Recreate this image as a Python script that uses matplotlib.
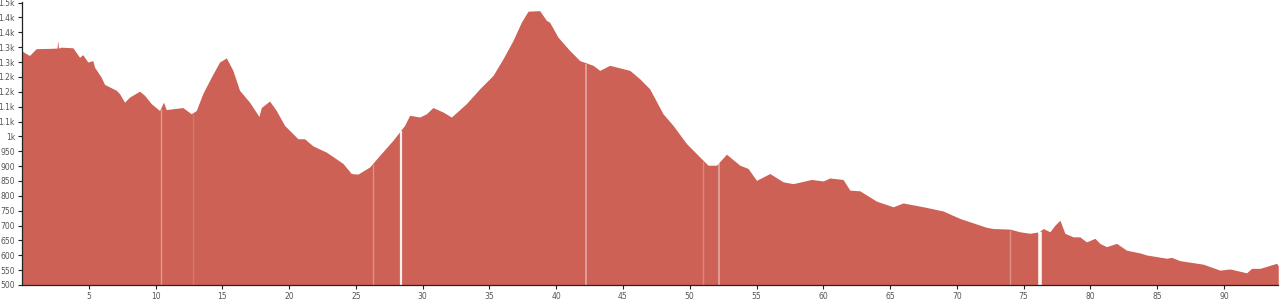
import numpy as np
import matplotlib
matplotlib.use("Agg")
import matplotlib.pyplot as plt

# distance (km) and elevation (m)
km = [0.00, 0.56, 1.06, 2.06, 2.62, 2.68, 2.73, 2.94, 3.81, 4.31, 4.55, 4.93,
      5.30, 5.43, 5.93, 6.18, 7.06, 7.30, 7.68, 8.05, 8.80, 9.18, 9.68, 10.30,
      10.60, 10.80, 12.04, 12.67, 13.05, 13.54, 14.17, 14.79, 15.30, 15.79,
      16.29, 17.04, 17.74, 17.92, 18.54, 19.04, 19.66, 20.28, 20.66, 21.16,
      21.78, 22.79, 24.03, 24.66, 25.15, 26.03, 26.78, 27.78, 28.65, 29.03,
      29.78, 30.28, 30.77, 31.52, 32.15, 33.27, 34.27, 35.27, 36.02, 36.76,
      37.39, 37.89, 38.76, 39.27, 39.51, 40.13, 41.01, 41.76, 42.76, 43.26,
      44.01, 45.51, 46.25, 47.00, 48.00, 48.75, 49.75, 50.50, 51.37, 52.00,
      52.75, 53.75, 54.37, 55.00, 56.00, 56.99, 57.74, 59.12, 59.99, 60.49,
      61.48, 61.99, 62.73, 63.99, 65.23, 65.98, 67.73, 68.97, 70.22, 72.22,
      72.72, 73.97, 74.72, 75.47, 76.17, 76.47, 76.97, 77.34, 77.72, 78.09,
      78.71, 79.21, 79.71, 80.34, 80.71, 81.21, 81.96, 82.71, 83.71, 84.21,
      85.71, 86.08, 86.70, 88.45, 89.70, 90.45, 91.70, 92.07, 92.70, 93.95,
      94.07]
elev = [1287, 1272, 1295, 1296, 1297, 1322, 1297, 1300, 1298, 1266, 1275, 1250,
        1255, 1233, 1199, 1175, 1155, 1144, 1115, 1132, 1152, 1138, 1110, 1087,
        1115, 1090, 1097, 1076, 1087, 1144, 1199, 1250, 1264, 1222,
        1155, 1115, 1067, 1097, 1119, 1087, 1037, 1009, 992, 992,
        968, 947, 909, 875, 873, 897, 936, 987, 1037, 1071,
        1065, 1076, 1097, 1082, 1065, 1110, 1160, 1205, 1261, 1322,
        1384, 1421, 1423, 1390, 1384, 1334, 1289, 1255, 1239, 1222,
        1239, 1222, 1194, 1160, 1076, 1037, 976, 942, 903, 903,
        940, 903, 892, 852, 875, 847, 841, 855, 850, 860,
        855, 819, 817, 782, 763, 776, 761, 749, 724, 694,
        690, 688, 679, 674, 679, 690, 679, 701, 718, 674,
        662, 662, 645, 657, 640, 629, 640, 617, 608, 601,
        590, 593, 582, 570, 550, 554, 541, 556, 556, 573,
        564]

# gaps in the track (km) and how visible they are
gap_km = [10.4, 12.8, 26.3, 28.4, 42.2, 51.0, 52.2, 74.0, 76.2]
gap_alpha = [0.35, 0.15, 0.3, 0.9, 0.45, 0.25, 0.45, 0.3, 0.95]
gap_width = [1.0, 1.0, 1.0, 1.6, 1.2, 1.0, 1.2, 1.0, 2.6]

yticks = list(range(500, 1451, 50))
ytick_labels = ["500", "550", "600", "650", "700", "750", "800", "850", "900", "950",
                "1k", "1.1k", "1.1k", "1.2k", "1.2k", "1.3k", "1.3k", "1.4k", "1.4k", "1.5k"]
xticks = list(range(5, 91, 5))

fig = plt.figure(figsize=(12.84, 3.04), dpi=100)
ax = fig.add_axes([22 / 1284, 19 / 304, 1256 / 1284, 283 / 304])

ax.fill_between(km, elev, 500, color="#cd6155", linewidth=0)
tops = np.interp(gap_km, km, elev)
for g, t, a, w in zip(gap_km, tops, gap_alpha, gap_width):
    ax.vlines(g, 500, t - 3, color="white", alpha=a, linewidth=w)

ax.set_xlim(0, 94.05)
ax.set_ylim(500, 1452)
ax.set_xticks(xticks)
ax.set_xticklabels([str(x) for x in xticks])
ax.set_yticks(yticks)
ax.set_yticklabels(ytick_labels)
ax.tick_params(labelsize=5.5, colors="#222222", labelcolor="#555555",
               length=3, width=0.8, pad=2)
for s in ["top", "right"]:
    ax.spines[s].set_visible(False)
for s in ["left", "bottom"]:
    ax.spines[s].set_color("#222222")
    ax.spines[s].set_linewidth(0.9)

fig.savefig("out.png", dpi=100)
